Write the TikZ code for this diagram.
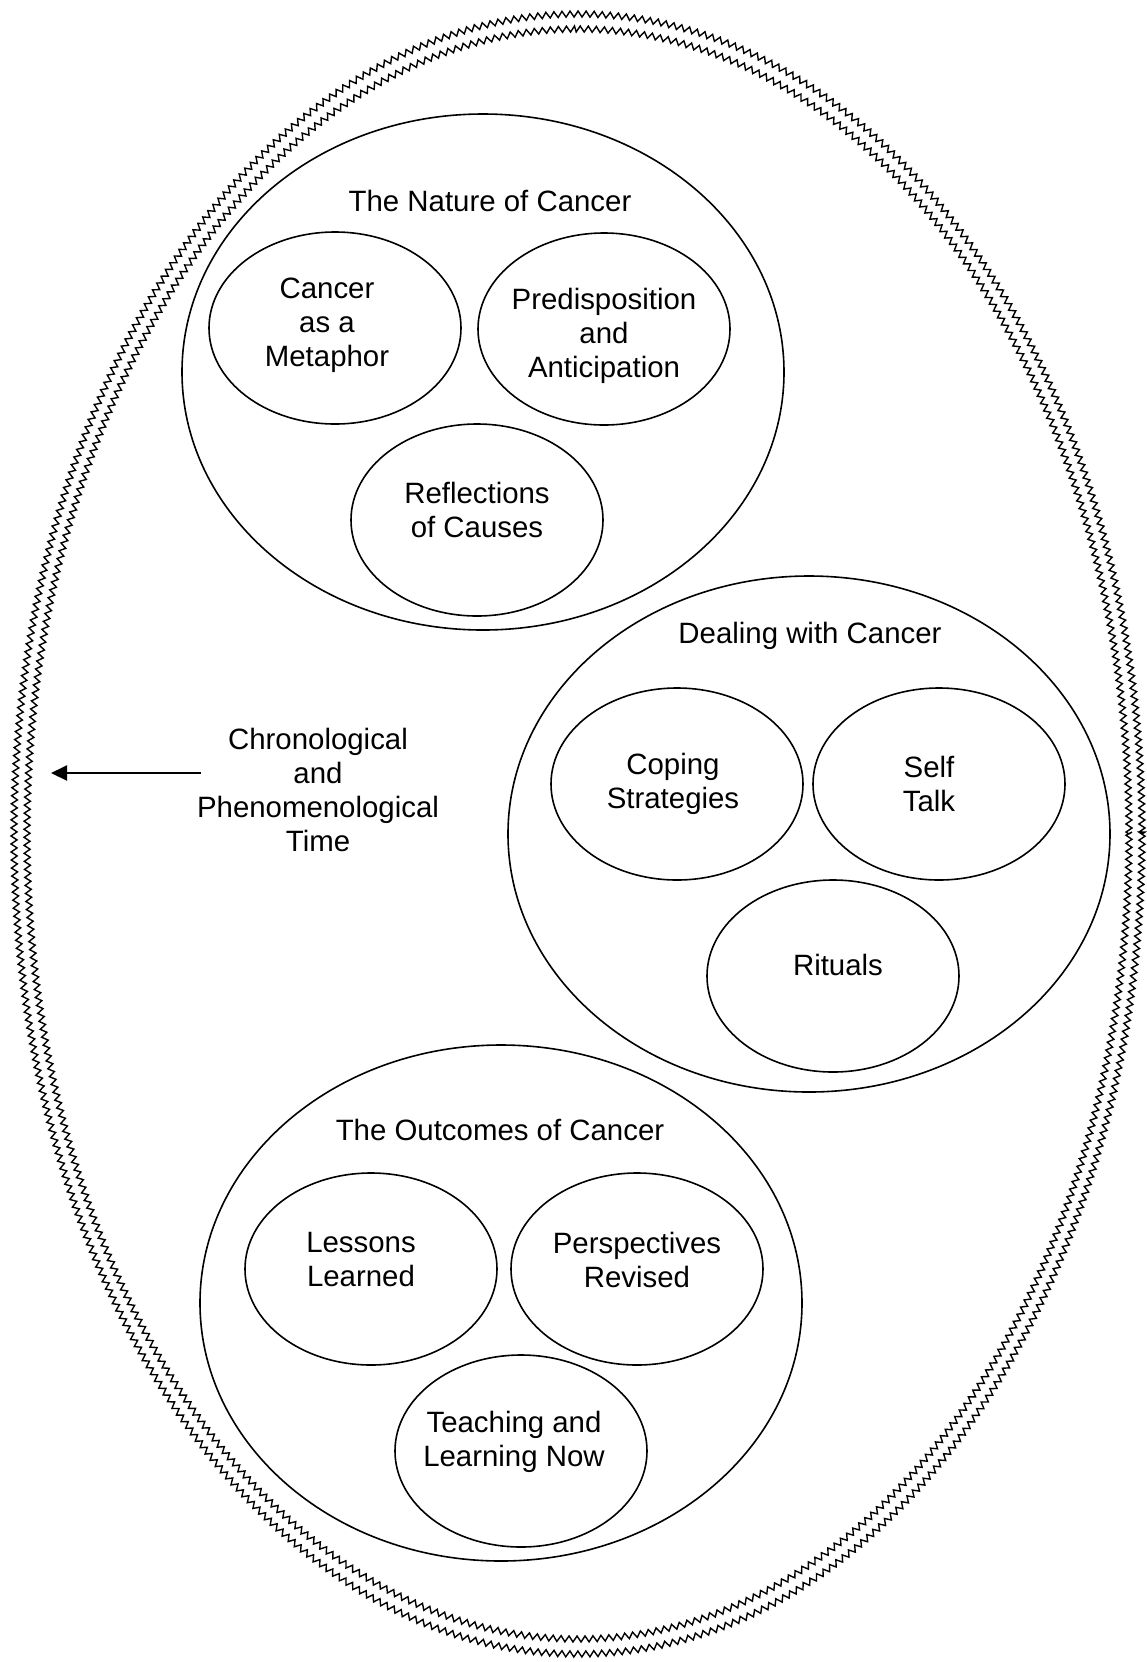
\documentclass[tikz,border=0pt]{standalone}
\usepackage{fontspec}
\setmainfont{Liberation Sans}
\usetikzlibrary{shapes.geometric, decorations.pathmorphing, arrows.meta}

\begin{document}
\begin{tikzpicture}[x=0.5pt, y=-0.5pt,
    theme/.style={ellipse, draw, line width=0.8pt, minimum width=301pt, minimum height=258pt, inner sep=0pt},
    sub/.style={ellipse, draw, line width=0.8pt, minimum width=126pt, minimum height=96pt, inner sep=0pt},
    words/.style={align=center, inner sep=0pt, font=\fontsize{14.7}{17}\selectfont},
    ring/.style={line width=0.7pt, decorate, decoration={zigzag, segment length=4pt, amplitude=1.5pt}}]
    \useasboundingbox (0,0) rectangle (1147,1662);

    % Draw the outer double zigzag boundary
    \foreach \rx/\ry in {282pt/410pt, 275.5pt/402.5pt}
        \draw[ring] (578,834) ellipse [x radius=\rx, y radius=\ry];

    % The Nature of Cancer
    \node[theme] (Nature) at (483,372) {};
    \node[words] (NatureTitle) at (490,201) {The Nature of Cancer};
    \node[sub] (Metaphor) at (335,328) {};
    \node[sub] (Predisposition) at (604,329) {};
    \node[sub] (Causes) at (477,520) {};
    \node[words] at (327,325) {Cancer\\as a\\Metaphor};
    \node[words] at (604,336) {Predisposition\\and\\Anticipation};
    \node[words] at (477,510) {Reflections\\of Causes};

    % Dealing with Cancer
    \node[theme] (Dealing) at (809,834) {};
    \node[words] (DealingTitle) at (810,636) {Dealing with Cancer};
    \node[sub] (Coping) at (677,784) {};
    \node[sub] (SelfTalk) at (939,784) {};
    \node[sub] (Rituals) at (833,976) {};
    \node[words] at (673,784) {Coping\\Strategies};
    \node[words] at (929,784) {Self\\Talk};
    \node[words] at (838,965) {Rituals};

    % The Outcomes of Cancer
    \node[theme] (Outcomes) at (501,1303) {};
    \node[words] (OutcomesTitle) at (500,1130) {The Outcomes of Cancer};
    \node[sub] (Lessons) at (371,1269) {};
    \node[sub] (Perspectives) at (637,1269) {};
    \node[sub] (Teaching) at (521,1451) {};
    \node[words] at (361,1260) {Lessons\\Learned};
    \node[words] at (637,1260) {Perspectives\\Revised};
    \node[words] at (514,1442) {Teaching and\\Learning Now};

    % Time arrow and its label
    \node[words] (Time) at (318,790) {Chronological\\and\\Phenomenological\\Time};
    \coordinate (ArrowStart) at (201,773);
    \coordinate (ArrowEnd) at (51,773);
    \draw[line width=1pt, -{Triangle[length=8pt, width=7.5pt]}] (ArrowStart) -- (ArrowEnd);
\end{tikzpicture}
\end{document}
